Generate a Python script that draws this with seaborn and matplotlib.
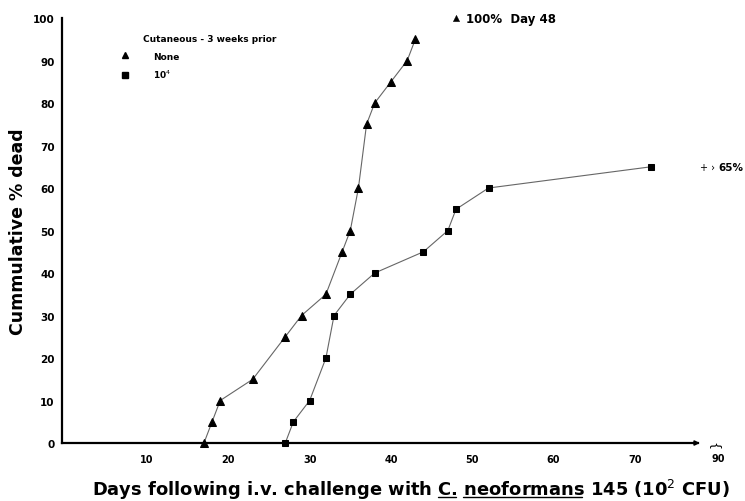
import matplotlib
matplotlib.use("Agg")
import matplotlib.pyplot as plt
import seaborn as sns
import pandas as pd
from matplotlib.lines import Line2D

# ---- data ----
none_days = [17, 18, 19, 23, 27, 29, 32, 34, 35, 36, 37, 38, 40, 42, 43]
none_pct = [0, 5, 10, 15, 25, 30, 35, 45, 50, 60, 75, 80, 85, 90, 95]
none_final_day = [48]
none_final_pct = [100]
imm_days = [27, 28, 30, 32, 33, 35, 38, 44, 47, 48, 52, 72]
imm_pct = [0, 5, 10, 20, 30, 35, 40, 45, 50, 55, 60, 65]
x_ticks = [10, 20, 30, 40, 50, 60, 70]
y_ticks = [0, 10, 20, 30, 40, 50, 60, 70, 80, 90, 100]

sns.set_style("white")
plt.rcParams["font.family"] = ["DejaVu Sans"]
plt.rcParams["text.color"] = "k"
plt.rcParams["axes.labelcolor"] = "k"
plt.rcParams["xtick.color"] = "k"
plt.rcParams["ytick.color"] = "k"

fig = plt.figure(figsize=(7.45, 5.02), dpi=100)
ax = fig.add_axes([0.0828, 0.1155, 0.9003, 0.8466])

df_none = pd.DataFrame({"day": none_days, "pct": none_pct})
df_imm = pd.DataFrame({"day": imm_days, "pct": imm_pct})

sns.lineplot(data=df_none, x="day", y="pct", ax=ax, color="#666666", lw=0.8,
             marker="^", markersize=5.2, clip_on=False)
ln = ax.lines[-1]
ln.set_markerfacecolor("k"); ln.set_markeredgecolor("k")
sns.lineplot(data=df_imm, x="day", y="pct", ax=ax, color="#666666", lw=0.8,
             marker="s", markersize=5.0, clip_on=False)
ln = ax.lines[-1]
ln.set_markerfacecolor("k"); ln.set_markeredgecolor("k")

sns.scatterplot(x=none_final_day, y=none_final_pct, ax=ax, marker="^", color="k",
                s=20, edgecolor="k", clip_on=False, legend=False)

ax.set_xlim(-0.5, 82)
ax.set_ylim(0, 100)
ax.set_xticks(x_ticks)
ax.set_yticks(y_ticks)
ax.set_xticklabels([str(v) for v in x_ticks], fontsize=7, fontweight="bold")
ax.set_yticklabels([str(v) for v in y_ticks], fontsize=7.5, fontweight="bold")
ax.tick_params(direction="in", length=3.5, width=1.2, color="k", pad=5)
ax.tick_params(axis="x", pad=8)
for s in ["top", "right"]:
    ax.spines[s].set_visible(False)
for s in ["left", "bottom"]:
    ax.spines[s].set_color("k")
    ax.spines[s].set_linewidth(1.6)
ax.spines["bottom"].set_bounds(-0.5, 77.8)
ax.annotate("", xy=(78.0, 0), xytext=(76.0, 0),
            arrowprops=dict(arrowstyle="-|>", color="k", lw=1.2,
                            mutation_scale=7, shrinkA=0, shrinkB=0),
            annotation_clip=False)
ax.text(80.3, -2.4, "90", fontsize=7, fontweight="bold", ha="center", va="top")
ax.text(79.7, -0.5, "{", fontsize=9, rotation=-90, ha="center", va="center")

ax.set_xlabel("")
ax.set_ylabel("Cummulative % dead", fontsize=12.5, fontweight="bold", labelpad=4)

# annotations
ax.text(49.2, 100, "100%  Day 48", fontsize=8.5, fontweight="bold", va="center", ha="left")
ax.text(78.0, 65, "+ ›", fontsize=7, va="center", ha="left", clip_on=False)
ax.text(83.4, 65, "65%", fontsize=7.5, fontweight="bold", va="center", ha="right",
        clip_on=False)

# legend
ax.text(9.5, 95.3, "Cutaneous - 3 weeks prior", fontsize=6.5, fontweight="bold",
        va="center", ha="left")
handles = [Line2D([], [], marker="^", color="k", ls="none", markersize=4.5),
           Line2D([], [], marker="s", color="k", ls="none", markersize=4.5)]
leg = ax.legend(handles, ["None", "10$^4$"], loc="upper left",
                bbox_to_anchor=(0.0755, 0.94), frameon=False, fontsize=6.5,
                handletextpad=2.6, labelspacing=0.75, handlelength=1.0)
for t in leg.get_texts():
    t.set_fontweight("bold")

# x label with underlines
fs = 12.9
ybase = 0.012
prefix = "Days following i.v. challenge with "
full = prefix + "C. neoformans 145 (10$^2$ CFU)"
xt = fig.text(0.552, ybase, full, fontsize=fs, fontweight="bold", ha="center", va="baseline")
fig.canvas.draw()
r = fig.canvas.get_renderer()
bb = xt.get_window_extent(r)

def width(s):
    t = fig.text(0, 0, s, fontsize=fs, fontweight="bold")
    w = t.get_window_extent(r).width
    t.remove()
    return w

wC = width("C")
x0 = bb.x0
c_start = x0 + width(prefix + "C") - wC + 2
c_end = x0 + width(prefix + "C.")
n_start = x0 + width(prefix + "C. n") - width("n") + 1
n_end = x0 + width(prefix + "C. neoformans")
W, H = fig.bbox.width, fig.bbox.height
yline = ybase * H - 2.5
for a, b in [(c_start, c_end), (n_start, n_end)]:
    fig.add_artist(Line2D([a / W, b / W], [yline / H, yline / H], color="k", lw=1.0))

fig.savefig("out.png", dpi=100)
